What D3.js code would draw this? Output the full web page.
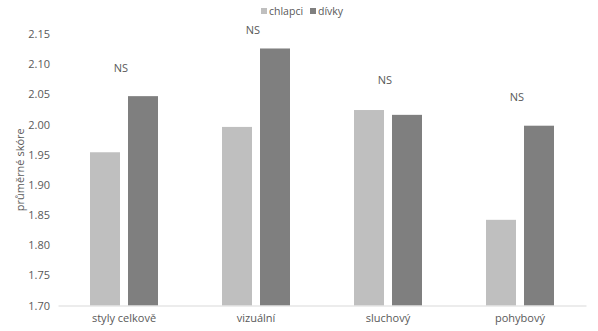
<!DOCTYPE html>
<html lang="cs">

<head>
    <meta charset="UTF-8">
    <title>Chart</title>
    <script src="https://d3js.org/d3.v7.min.js"></script>
    <style>
        body { margin: 0; background: #fff; }
        text { font-family: "Open Sans", "Liberation Sans", sans-serif; fill: #595959; }
    </style>
</head>

<body>
    <script>
        // data
        var categories = ["styly celkově", "vizuální", "sluchový", "pohybový"];
        var chlapci = [1.954, 1.996, 2.024, 1.842];
        var divky = [2.047, 2.126, 2.016, 1.998];
        var seriesNames = ["chlapci", "dívky"];
        var yTicks = [1.70, 1.75, 1.80, 1.85, 1.90, 1.95, 2.00, 2.05, 2.10, 2.15];
        // height (in axis units) where each "NS" note sits
        var nsLevels = [2.094, 2.156, 2.073, 2.045];

        var width = 598, height = 331;
        var colors = ["#bfbfbf", "#7f7f7f"];

        var svg = d3.select("body")
            .append("svg")
            .attr("width", width)
            .attr("height", height);

        var x = d3.scaleBand()
            .domain(categories)
            .range([58, 586]);

        var y = d3.scaleLinear()
            .domain([1.70, 2.15])
            .range([305.5, 34]);

        // y tick labels, no axis line
        var yAxis = svg.append("g")
            .attr("transform", "translate(50,0)")
            .call(d3.axisLeft(y).tickValues(yTicks).tickFormat(d3.format(".2f")).tickSize(0));
        yAxis.select(".domain").remove();
        yAxis.selectAll("text")
            .attr("x", 0)
            .style("font-size", "11px")
            .style("fill", "#595959");

        var barW = 30, gap = 8;
        var rows = categories.map(function (c, i) {
            return { cat: c, vals: [chlapci[i], divky[i]] };
        });

        var groups = svg.selectAll(".grp")
            .data(rows)
            .enter()
            .append("g")
            .attr("class", "grp");

        groups.selectAll("rect")
            .data(function (d) {
                return d.vals.map(function (v, k) { return { cat: d.cat, v: v, k: k }; });
            })
            .enter()
            .append("rect")
            .attr("x", function (d) {
                var c = x(d.cat) + x.bandwidth() / 2;
                return d.k === 0 ? c - gap / 2 - barW : c + gap / 2;
            })
            .attr("y", function (d) { return y(d.v); })
            .attr("width", barW)
            .attr("height", function (d) { return y(1.70) - y(d.v); })
            .attr("fill", function (d) { return colors[d.k]; });

        // x axis line + labels
        var xAxis = svg.append("g")
            .attr("transform", "translate(0,305.5)")
            .call(d3.axisBottom(x).tickSize(0).tickPadding(9));
        xAxis.select(".domain").attr("stroke", "#d9d9d9");
        xAxis.selectAll("text")
            .style("font-size", "11px")
            .style("fill", "#595959");

        // NS notes
        svg.selectAll(".ns")
            .data(categories)
            .enter()
            .append("text")
            .attr("class", "ns")
            .attr("x", function (d) { return x(d) + x.bandwidth() / 2 - 3; })
            .attr("y", function (d, i) { return y(nsLevels[i]); })
            .attr("dy", "0.35em")
            .attr("text-anchor", "middle")
            .style("font-size", "11px")
            .text("NS");

        // y title
        svg.append("text")
            .attr("transform", "translate(20," + (y(1.70) + y(2.15)) / 2 + ") rotate(-90)")
            .attr("text-anchor", "middle")
            .attr("dy", "0.35em")
            .style("font-size", "11px")
            .text("průměrné skóre");

        // legend
        var legX = [261, 310];
        var leg = svg.selectAll(".leg")
            .data(seriesNames)
            .enter()
            .append("g")
            .attr("class", "leg")
            .attr("transform", function (d, i) { return "translate(" + legX[i] + ",7)"; });
        leg.append("rect")
            .attr("width", 6)
            .attr("height", 6)
            .attr("y", 1)
            .attr("fill", function (d, i) { return colors[i]; });
        leg.append("text")
            .attr("x", 8)
            .attr("y", 4)
            .attr("dy", "0.35em")
            .style("font-size", "10.5px")
            .text(function (d) { return d; });
    </script>

</body>

</html>
